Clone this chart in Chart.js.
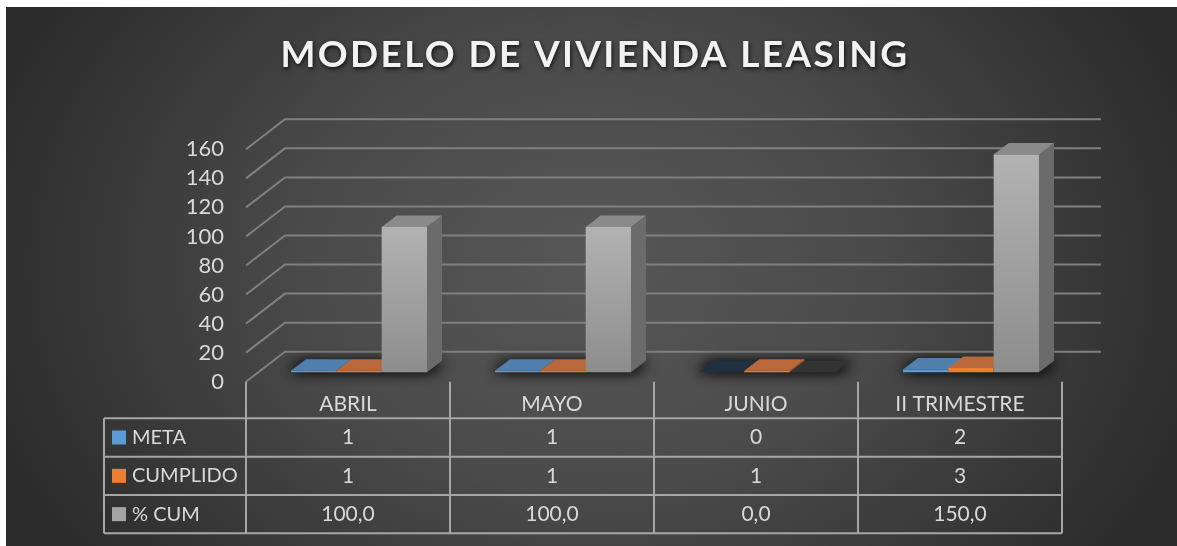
<!DOCTYPE html>
<html>
<head>
<meta charset="utf-8">
<script src="https://cdn.jsdelivr.net/npm/chart.js@4"></script>
<style>
    html, body { margin: 0; padding: 0; background: #fff; overflow: hidden; }
    #bg { position: absolute; left: 6px; top: 7px; width: 1171px; height: 539px;
          background: radial-gradient(ellipse 640px 500px at 50% 48%, #575757 0%, #4a4a4a 45%, #2b2b2b 100%); }
    #box { position: absolute; left: 0; top: 0; width: 1177px; height: 546px; }
</style>
</head>
<body>
<div id="bg"></div>
<div id="box"><canvas id="myChart" width="1177" height="546"></canvas></div>
<script>
const categories = ['ABRIL', 'MAYO', 'JUNIO', 'II TRIMESTRE'];
const meta = [1, 1, 0, 2];
const cumplido = [1, 1, 1, 3];
const pctCum = [100, 100, 0, 150];

const CHART = document.getElementById('myChart');
const FONT = 'Lato, sans-serif';
const TEXT = '#d9d9d9';

// 3D look: how far the walls and the bars go back
const WALL_DX = 39, WALL_DY = -30;
const BAR_SHIFT_X = 11, BAR_SHIFT_Y = -9.4;
const BAR_DX = 15, BAR_DY = -11.5;

// faces per series: [top, top when value is 0, side]
const faces = [
    ['#5280ad', '#1f3040', '#3f6f9c'],
    ['#b8683a', '#b8683a', '#a85a2a'],
    ['#8a8a8a', '#333333', '#6b6b6b']
];

const quad = (ctx, pts, fill) => {
    ctx.beginPath();
    ctx.moveTo(pts[0][0], pts[0][1]);
    pts.slice(1).forEach(p => ctx.lineTo(p[0], p[1]));
    ctx.closePath();
    ctx.fillStyle = fill;
    ctx.fill();
};

const grayFront = (context) => {
    const chart = context.chart;
    if (!chart.scales.y || context.parsed === undefined) return '#a0a0a0';
    const y = chart.scales.y;
    const top = y.getPixelForValue(context.parsed.y);
    const bottom = y.getPixelForValue(0);
    if (!isFinite(top) || !isFinite(bottom)) return '#a0a0a0';
    const g = chart.ctx.createLinearGradient(0, top, 0, bottom);
    g.addColorStop(0, '#b2b2b2');
    g.addColorStop(1, '#8d8d8d');
    return g;
};

const wallsPlugin = {
    id: 'walls',
    beforeDraw(chart) {
        // title gets spacing and a soft shadow, only once
        const t = chart.titleBlock;
        if (t && !t._wrapped) {
            const d = t.draw;
            t.draw = function () {
                const c = this.ctx;
                c.save();
                c.letterSpacing = '2.35px';
                c.shadowColor = 'rgba(0,0,0,0.75)';
                c.shadowBlur = 4;
                c.shadowOffsetY = 2;
                c.shadowOffsetX = 1;
                d.call(this);
                c.restore();
            };
            t._wrapped = true;
        }
    },
    beforeDatasetsDraw(chart) {
        const ctx = chart.ctx, y = chart.scales.y, x = chart.scales.x, area = chart.chartArea;
        ctx.save();
        ctx.strokeStyle = '#808080';
        ctx.lineWidth = 2;
        y.ticks.forEach(tick => {
            const py = y.getPixelForValue(tick.value);
            ctx.beginPath();
            ctx.moveTo(area.left, py);
            ctx.lineTo(area.left + WALL_DX, py + WALL_DY);
            ctx.lineTo(area.right + WALL_DX, py + WALL_DY);
            ctx.stroke();
        });
        // blurred floor shadow under each cluster, the shape itself stays off canvas
        const base = y.getPixelForValue(0) + BAR_SHIFT_Y;
        const half = (x.getPixelForValue(1) - x.getPixelForValue(0)) / 3;
        const OFF = 3000;
        categories.forEach((c, i) => {
            const cx = x.getPixelForValue(i) + BAR_SHIFT_X - OFF;
            ctx.save();
            ctx.shadowColor = 'rgba(0,0,0,0.85)';
            ctx.shadowOffsetX = OFF;
            ctx.shadowBlur = 14;
            for (let pass = 0; pass < 2; pass++) {
                quad(ctx, [
                    [cx - half - 3, base - 1],
                    [cx + half + 3, base - 1],
                    [cx + half + BAR_DX + 3, base + BAR_DY + 2],
                    [cx - half + BAR_DX - 3, base + BAR_DY + 2]
                ], '#000');
            }
            ctx.restore();
        });
        ctx.restore();

        // paint the series left to right, the tall gray bars go over the flat tops
        ctx.save();
        ctx.translate(BAR_SHIFT_X, BAR_SHIFT_Y);
        chart.data.datasets.forEach((ds, d) => {
            const metaSet = chart.getDatasetMeta(d);
            const f = faces[d];
            metaSet.data.forEach((bar, i) => {
                const l = bar.x - bar.width / 2, r = bar.x + bar.width / 2;
                const v = ds.data[i];
                quad(ctx, [[r, bar.y], [r + BAR_DX, bar.y + BAR_DY], [r + BAR_DX, bar.base + BAR_DY], [r, bar.base]], v > 0 ? f[2] : f[1]);
                quad(ctx, [[l, bar.y], [r, bar.y], [r + BAR_DX, bar.y + BAR_DY], [l + BAR_DX, bar.y + BAR_DY]], v > 0 ? f[0] : f[1]);
            });
            metaSet.controller.draw();
        });
        ctx.restore();
    },
    beforeDatasetDraw() {
        return false;
    }
};

const tablePlugin = {
    id: 'dataTable',
    afterDraw(chart) {
        const ctx = chart.ctx, x = chart.scales.x, area = chart.chartArea;
        const step = x.getPixelForValue(1) - x.getPixelForValue(0);
        const rows = [418.3, 456.7, 495, 533.3];
        const tableLeft = 104;
        ctx.save();
        ctx.strokeStyle = '#a6a6a6';
        ctx.lineWidth = 2;
        rows.forEach((ry) => {
            ctx.beginPath();
            ctx.moveTo(tableLeft, ry);
            ctx.lineTo(area.right, ry);
            ctx.stroke();
        });
        ctx.beginPath();
        ctx.moveTo(tableLeft, rows[0]);
        ctx.lineTo(tableLeft, rows[3]);
        for (let i = 0; i <= categories.length; i++) {
            ctx.moveTo(area.left + step * i, area.bottom);
            ctx.lineTo(area.left + step * i, rows[3]);
        }
        ctx.stroke();

        ctx.textBaseline = 'middle';
        chart.data.datasets.forEach((ds, r) => {
            const cy = (rows[r] + rows[r + 1]) / 2;
            ctx.fillStyle = ['#5b9bd5', '#ed7d31', '#a5a5a5'][r];
            ctx.fillRect(112, cy - 7, 14, 14);
            ctx.fillStyle = TEXT;
            ctx.textAlign = 'left';
            ctx.font = '20px ' + FONT;
            ctx.fillText(ds.label, 132, cy);
            ctx.textAlign = 'center';
            ctx.font = '21px ' + FONT;
            ds.data.forEach((v, i) => {
                const s = r === 2 ? v.toFixed(1).replace('.', ',') : String(v);
                ctx.fillText(s, x.getPixelForValue(i), cy);
            });
        });
        ctx.restore();
    }
};

new Chart(CHART, {
    type: 'bar',
    data: {
        labels: categories,
        datasets: [
            { label: 'META', data: meta, backgroundColor: '#5b9bd5' },
            { label: 'CUMPLIDO', data: cumplido, backgroundColor: '#ed7d31' },
            { label: '% CUM', data: pctCum, backgroundColor: grayFront }
        ]
    },
    options: {
        responsive: false,
        animation: false,
        categoryPercentage: 2 / 3,
        barPercentage: 1,
        layout: { padding: { left: 128, right: 115, top: 0, bottom: 124.3 } },
        plugins: {
            legend: { display: false },
            tooltip: { enabled: false },
            title: {
                display: true,
                text: 'MODELO DE VIVIENDA LEASING',
                color: '#f2f2f2',
                font: { family: FONT, size: 37, weight: 'bold', lineHeight: 1.2 },
                padding: { top: 32.8, bottom: 72.1 }
            }
        },
        scales: {
            x: {
                grid: { display: false, drawTicks: false },
                border: { display: false },
                ticks: { color: TEXT, font: { family: FONT, size: 21 }, padding: 10, maxRotation: 0 },
                afterFit: (scale) => { scale.height = 40; }
            },
            y: {
                min: 0,
                max: 160,
                grid: { display: false, drawTicks: false },
                border: { display: false },
                ticks: { stepSize: 20, autoSkip: false, color: TEXT, font: { family: FONT, size: 22 }, padding: 22 },
                afterFit: (scale) => { scale.width = 118; }
            }
        }
    },
    plugins: [wallsPlugin, tablePlugin]
});
</script>
</body>
</html>
